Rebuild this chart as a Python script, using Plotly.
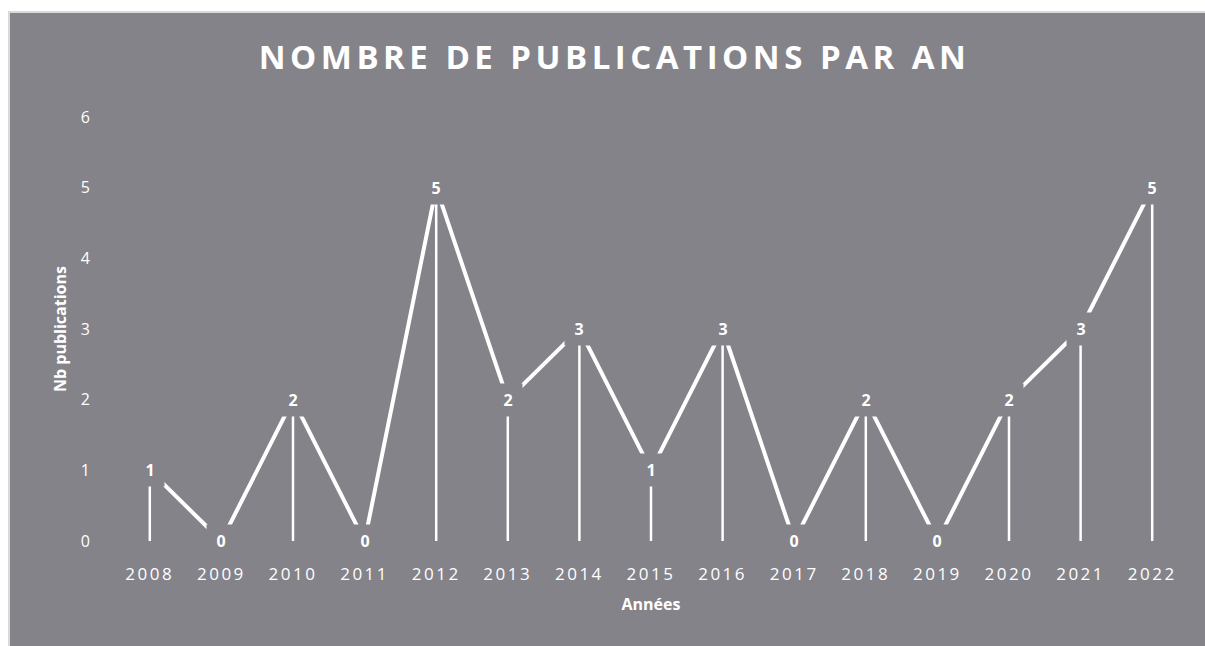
import plotly.graph_objects as go

years = ["2008", "2009", "2010", "2011", "2012", "2013", "2014", "2015",
         "2016", "2017", "2018", "2019", "2020", "2021", "2022"]
publications = [1, 0, 2, 0, 5, 2, 3, 1, 3, 0, 2, 0, 2, 3, 5]
y_ticks = [0, 1, 2, 3, 4, 5, 6]

title_text = "NOMBRE DE PUBLICATIONS PAR AN"
x_title = "Années"
y_title = "Nb publications"

BG = "#84838a"
FONT = "Open Sans"

W, H = 1205, 646
L, R, T, B = 114, 17, 117, 105
pw, ph = W - L - R, H - T - B

def px_to_paper_x(px):
    return (px - L) / pw

def px_to_paper_y(py):
    return 1 - (py - T) / ph

xpos = list(range(len(years)))

# drop lines from each point to zero
drop_x, drop_y = [], []
for xi, v in zip(xpos, publications):
    if v > 0:
        drop_x += [xi, xi, None]
        drop_y += [0, v, None]

fig = go.Figure()
fig.add_trace(go.Scatter(x=drop_x, y=drop_y, mode="lines",
                         line=dict(color="white", width=2.5),
                         hoverinfo="skip", showlegend=False))
fig.add_trace(go.Scatter(x=xpos, y=publications, mode="lines",
                         line=dict(color="white", width=4),
                         showlegend=False))

for xi, v in zip(xpos, publications):
    fig.add_annotation(x=xi, y=v, xref="x", yref="y", text=str(v),
                       showarrow=False, bgcolor=BG, width=24, height=28,
                       borderpad=2, font=dict(family=FONT, size=16,
                                               color="white", weight="bold"))

# white outer strips (top and left) and light border of the grey panel
fig.add_shape(type="rect", xref="paper", yref="paper", layer="below",
              x0=px_to_paper_x(-20), x1=px_to_paper_x(W + 20),
              y0=px_to_paper_y(11), y1=px_to_paper_y(-20),
              fillcolor="white", line=dict(width=0))
fig.add_shape(type="rect", xref="paper", yref="paper", layer="below",
              x0=px_to_paper_x(-20), x1=px_to_paper_x(8),
              y0=px_to_paper_y(H + 20), y1=px_to_paper_y(-20),
              fillcolor="white", line=dict(width=0))
fig.add_shape(type="rect", xref="paper", yref="paper", layer="below",
              x0=px_to_paper_x(9), x1=px_to_paper_x(W + 20),
              y0=px_to_paper_y(H + 20), y1=px_to_paper_y(12),
              fillcolor=BG, line=dict(color="#d9d9d9", width=2))

fig.update_layout(
    width=W, height=H,
    margin=dict(l=L, r=R, t=T, b=B, autoexpand=False),
    paper_bgcolor=BG,
    plot_bgcolor="rgba(0,0,0,0)",
    title=dict(text=title_text, x=0.51, xanchor="center", y=1 - 57 / H,
               yanchor="middle",
               font=dict(family=FONT, size=33, color="white", weight="bold")),
    xaxis=dict(range=[-0.5, len(years) - 0.5], tickvals=xpos, ticktext=years,
               showgrid=False, zeroline=False, showline=False,
               ticks="outside", ticklen=18, tickcolor="rgba(0,0,0,0)",
               tickfont=dict(family=FONT, size=17, color="white"),
               title=dict(text=x_title, standoff=14,
                          font=dict(family=FONT, size=16, color="white",
                                    weight="bold"))),
    yaxis=dict(range=[0, 6], tickvals=y_ticks, showgrid=False,
               zeroline=False, showline=False,
               ticks="outside", ticklen=20, tickcolor="rgba(0,0,0,0)",
               tickfont=dict(family=FONT, size=16, color="white"),
               title=dict(text=y_title, standoff=10,
                          font=dict(family=FONT, size=16, color="white",
                                    weight="bold"))),
)

post = """
document.body.style.margin = '0';
document.body.style.overflow = 'hidden';
var t = document.querySelector('.gtitle');
if (t) { t.style.letterSpacing = '4.5px'; }
var xt = document.querySelectorAll('.xtick text');
xt.forEach(function(e){ e.style.letterSpacing = '2.5px'; });
"""

fig.write_html("out.html", post_script=post,
               config={"displayModeBar": False})
